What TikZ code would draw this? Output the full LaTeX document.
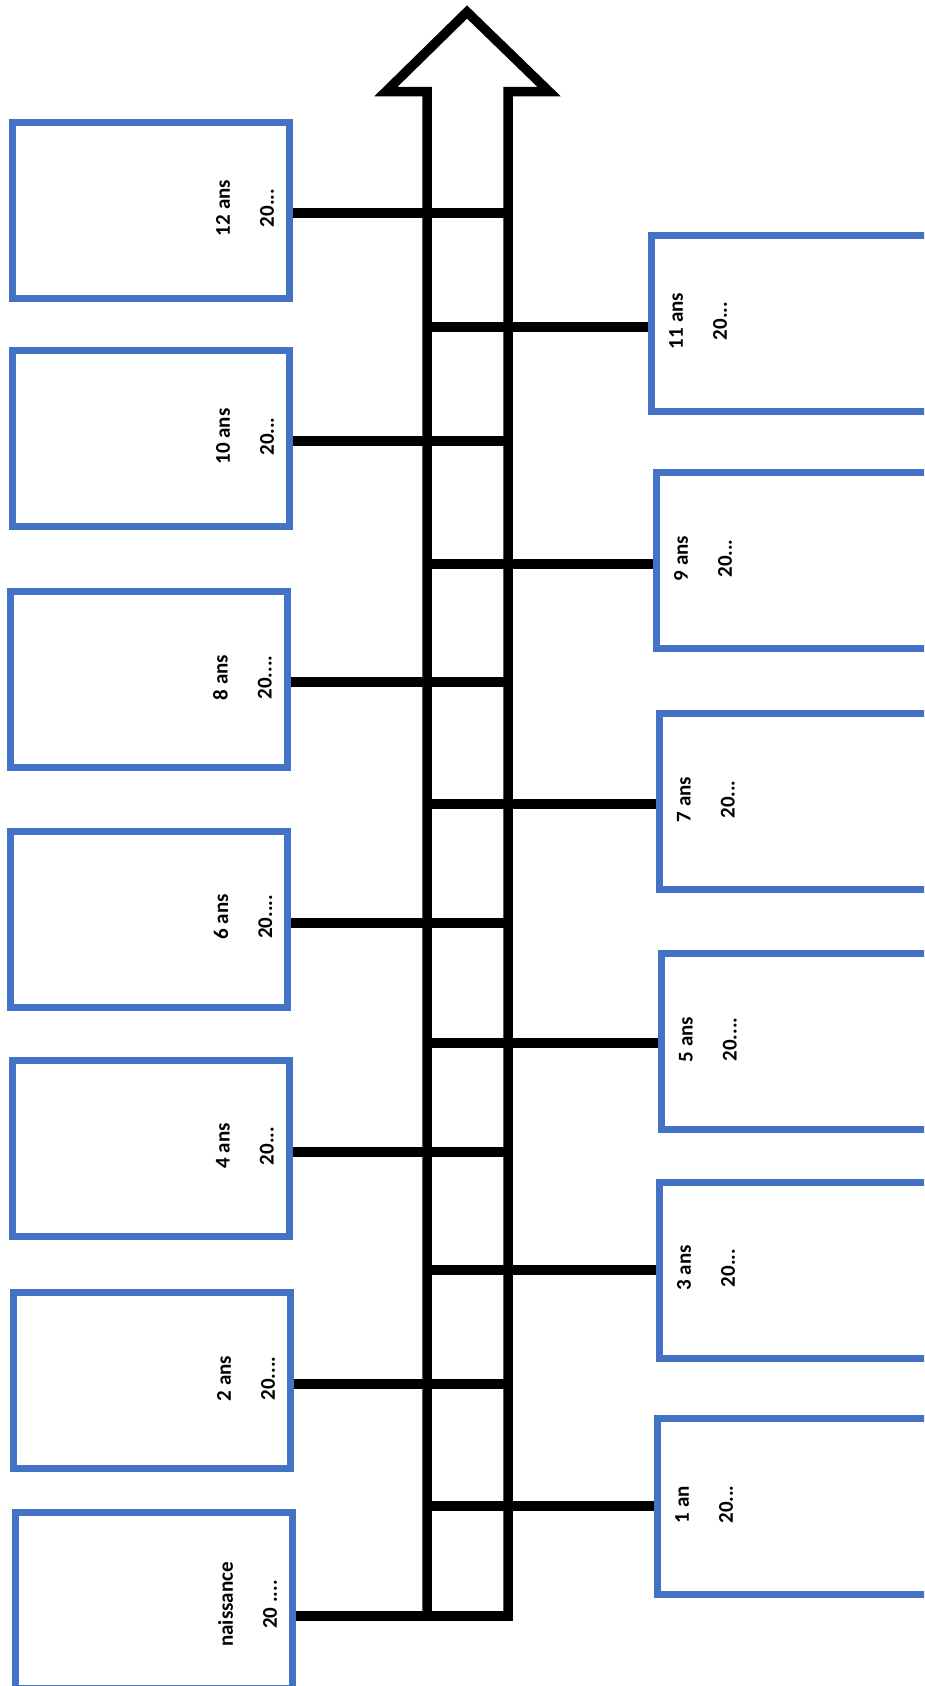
\documentclass[tikz,border=0pt]{standalone}
\usepackage{fontspec}
\setmainfont{Carlito}
\usetikzlibrary{calc}
\definecolor{boxblue}{HTML}{4472C4}
\begin{document}
\begin{tikzpicture}[x=1pt,y=-1pt,
  lbox/.style={draw=boxblue,line width=7pt,minimum width=277pt,minimum height=176pt,inner sep=0pt},
  rbox/.style={draw=boxblue,line width=7pt,minimum width=285pt,minimum height=176pt,inner sep=0pt},
  lbl/.style={rotate=90,align=center,inner sep=0pt,font=\bfseries\fontsize{21}{44}\selectfont},
  bar/.style={line width=9.5pt,line join=miter,line cap=butt}]
\useasboundingbox (0,0) rectangle (924,1686);
\clip (0,0) rectangle (924,1686);

% left boxes
\node[lbox] (b12) at (151,210) {};
\node[lbox] (b10) at (151,438.5) {};
\node[lbox] (b8)  at (148.5,679.5) {};
\node[lbox] (b6)  at (149,919) {};
\node[lbox] (b4)  at (151,1148) {};
\node[lbox] (b2)  at (152,1380.5) {};
\node[lbox] (bn)  at (153.5,1600.5) {};
% right boxes
\node[rbox] (b11) at (651.5+142.5,323) {};
\node[rbox] (b9)  at (656.5+142.5,560.5) {};
\node[rbox] (b7)  at (659.5+142.5,801.5) {};
\node[rbox] (b5)  at (661.5+142.5,1041.5) {};
\node[rbox] (b3)  at (659.5+142.5,1270) {};
\node[rbox] (b1)  at (657.5+142.5,1506.5) {};

% labels
\node[lbl] (t12) at ($(b12.east)+(-48,-2)$) {12 ans\\20...};
\node[lbl] (t10) at ($(b10.east)+(-48,-2)$) {10 ans\\20...};
\node[lbl] (t8)  at ($(b8.east)+(-48,-2)$)  {8 ans\\20....};
\node[lbl] (t6)  at ($(b6.east)+(-48,-2)$)  {6 ans\\20....};
\node[lbl] (t4)  at ($(b4.east)+(-48,-2)$)  {4 ans\\20...};
\node[lbl] (t2)  at ($(b2.east)+(-48,-2)$)  {2 ans\\20....};
\node[lbl] (tn)  at ($(bn.east)+(-48,4)$)   {naissance\\20 ....};
\node[lbl] (t11) at ($(b11.west)+(50,-2)$)  {11 ans\\20...};
\node[lbl] (t9)  at ($(b9.west)+(50,-2)$)   {9 ans\\20...};
\node[lbl] (t7)  at ($(b7.west)+(50,-2)$)   {7 ans\\20...};
\node[lbl] (t5)  at ($(b5.west)+(50,-2)$)   {5 ans\\20....};
\node[lbl] (t3)  at ($(b3.west)+(50,-2)$)   {3 ans\\20...};
\node[lbl] (t1)  at ($(b1.west)+(50,-2)$)   {1 an\\20...};

% arrow
\coordinate (sl) at (427,1616);
\coordinate (sr) at (508,1616);
\coordinate (bend) at (512.75,1616);
\draw[bar] (sl) -- (427,91.5) -- (386,91.5) -- (467,12) -- (549,91.5) -- (508,91.5) -- (sr);
\draw[bar] (bn.east |- bend) -- (bend);

% left connectors (to right shaft)
\coordinate (r12) at (508,213);
\coordinate (r10) at (508,441);
\coordinate (r8)  at (508,682);
\coordinate (r6)  at (508,923);
\coordinate (r4)  at (508,1152);
\coordinate (r2)  at (508,1384);
\draw[bar] (b12.east |- r12) -- (r12);
\draw[bar] (b10.east |- r10) -- (r10);
\draw[bar] (b8.east |- r8) -- (r8);
\draw[bar] (b6.east |- r6) -- (r6);
\draw[bar] (b4.east |- r4) -- (r4);
\draw[bar] (b2.east |- r2) -- (r2);

% right connectors (from left shaft)
\coordinate (l11) at (427,327);
\coordinate (l9)  at (427,564);
\coordinate (l7)  at (427,804);
\coordinate (l5)  at (427,1043);
\coordinate (l3)  at (427,1270);
\coordinate (l1)  at (427,1506);
\draw[bar] (l11) -- (b11.west |- l11);
\draw[bar] (l9) -- (b9.west |- l9);
\draw[bar] (l7) -- (b7.west |- l7);
\draw[bar] (l5) -- (b5.west |- l5);
\draw[bar] (l3) -- (b3.west |- l3);
\draw[bar] (l1) -- (b1.west |- l1);
\end{tikzpicture}
\end{document}
